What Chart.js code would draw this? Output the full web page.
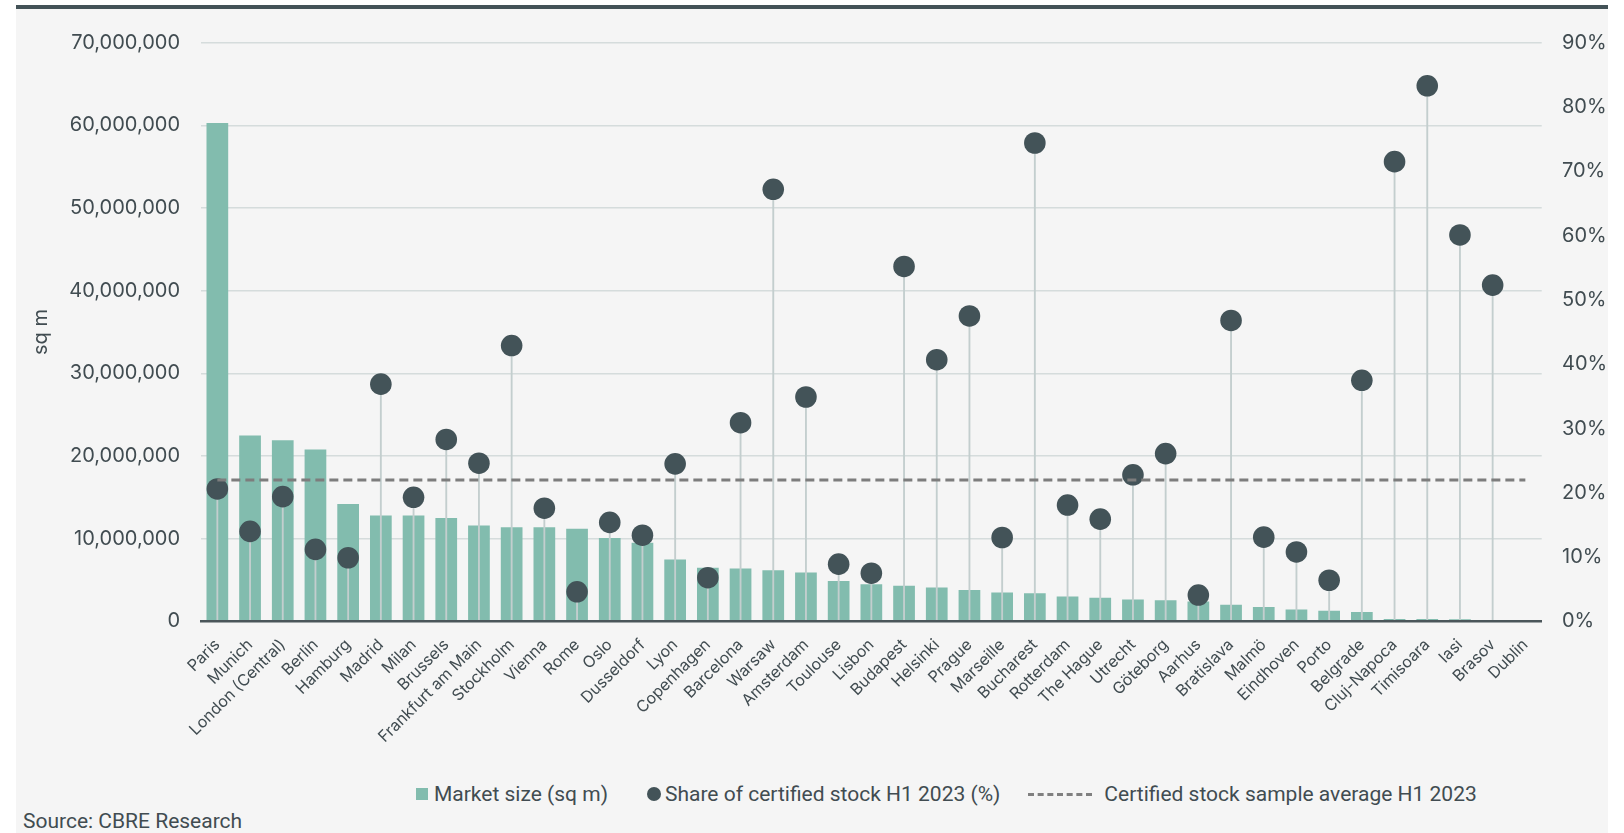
<!DOCTYPE html>
<html>
<head>
<meta charset="utf-8">
<script src="https://cdn.jsdelivr.net/npm/chart.js@4/dist/chart.umd.min.js"></script>
<style>
    body { margin: 0; background: #ffffff; }
    #topRule { position: absolute; left: 16px; top: 5px; width: 1592px; height: 4px; background: #435257; }
    #panel { position: absolute; left: 16px; top: 9px; width: 1592px; height: 824px; background: #f5f5f5; }
    #chartBox { position: absolute; left: 0; top: 0; width: 1592px; height: 760px; }
    #legend {
        position: absolute; left: 400px; top: 773px; height: 24px;
        display: flex; align-items: center;
        font-family: Roboto, sans-serif; font-size: 21px; color: #414c51; line-height: 24px;
    }
    #legend .item { display: flex; align-items: center; }
    #legend .swatch { width: 12px; height: 12px; background: #82bcae; margin-right: 6px; }
    #legend .dot { width: 14px; height: 14px; border-radius: 50%; background: #435358; margin-right: 4px; }
    #legend .dash { width: 64px; height: 0; border-top: 3px dashed #808080; margin-right: 12px; }
    #source {
        position: absolute; left: 7px; top: 800px;
        font-family: Roboto, sans-serif; font-size: 21px; color: #414c51; line-height: 24px;
    }
</style>
</head>
<body>
<div id="topRule"></div>
<div id="panel">
    <div id="chartBox"><canvas id="marketChart"></canvas></div>
    <div id="legend"></div>
    <div id="source">Source: CBRE Research</div>
</div>
<script>
/* Data */
const cities = [
    "Paris", "Munich", "London (Central)", "Berlin", "Hamburg", "Madrid", "Milan", "Brussels",
    "Frankfurt am Main", "Stockholm", "Vienna", "Rome", "Oslo", "Dusseldorf", "Lyon", "Copenhagen",
    "Barcelona", "Warsaw", "Amsterdam", "Toulouse", "Lisbon", "Budapest", "Helsinki", "Prague",
    "Marseille", "Bucharest", "Rotterdam", "The Hague", "Utrecht", "Göteborg", "Aarhus", "Bratislava",
    "Malmö", "Eindhoven", "Porto", "Belgrade", "Cluj-Napoca", "Timisoara", "Iasi", "Brasov", "Dublin"
];

// office market size, sq m
const marketSize = [
    60300000, 22500000, 21900000, 20800000, 14200000, 12800000, 12800000, 12500000,
    11600000, 11400000, 11400000, 11200000, 10100000, 9500000, 7500000, 6500000,
    6400000, 6200000, 5900000, 4900000, 4500000, 4300000, 4100000, 3800000,
    3500000, 3400000, 3000000, 2850000, 2650000, 2550000, 2400000, 2000000,
    1750000, 1450000, 1300000, 1150000, 300000, 280000, 270000, 150000, null
];

// share of certified stock H1 2023, %
const certifiedShare = [
    20.6, 14.0, 19.4, 11.2, 9.9, 36.9, 19.3, 28.3,
    24.6, 42.9, 17.6, 4.6, 15.4, 13.4, 24.5, 6.8,
    30.9, 67.2, 34.9, 8.9, 7.5, 55.2, 40.7, 47.5,
    13.05, 74.4, 18.1, 15.9, 22.8, 26.1, 4.1, 46.8,
    13.1, 10.8, 6.4, 37.5, 71.5, 83.3, 60.1, 52.3, null
];

const sampleAverage = 22.0;

const sizeTicks = { min: 0, max: 70000000, step: 10000000 };
const shareTicks = { min: 0, max: 90, step: 10 };

const seriesNames = [
    "Market size (sq m)",
    "Share of certified stock H1 2023 (%)",
    "Certified stock sample average H1 2023"
];

/* Styles */
const TEAL = "#82bcae";
const SLATE = "#435358";
const STEM = "#c3cece";
const GRID = "#d5dcdc";
const TEXT = "#414c51";
const AXIS_FONT = "Inter, 'Noto Sans', sans-serif";

/* Chart config */
const config = {
    type: 'bar',
    data: {
        labels: cities,
        datasets: [
            {
                type: 'line',
                label: seriesNames[2],
                data: cities.map(() => sampleAverage),
                yAxisID: 'y1',
                borderColor: "#7d7d7d",
                borderWidth: 3,
                borderDash: [9, 5],
                pointRadius: 0,
                fill: false,
                order: 0
            },
            {
                type: 'line',
                label: seriesNames[1],
                data: certifiedShare,
                yAxisID: 'y1',
                showLine: false,
                pointRadius: 10.8,
                pointHoverRadius: 10.8,
                pointBorderWidth: 0,
                pointBackgroundColor: SLATE,
                backgroundColor: SLATE,
                order: 1
            },
            {
                // thin stems from the baseline up to each dot
                label: 'stems',
                data: certifiedShare.map(v => v === null ? null : [0, v]),
                yAxisID: 'y1',
                backgroundColor: STEM,
                barThickness: 1.2,
                grouped: false,
                order: 2
            },
            {
                label: seriesNames[0],
                data: marketSize,
                yAxisID: 'y',
                backgroundColor: TEAL,
                barPercentage: 0.664,
                categoryPercentage: 1,
                grouped: false,
                order: 3
            }
        ]
    },
    options: {
        responsive: true,
        maintainAspectRatio: false,
        animation: false,
        layout: { padding: { top: 33.7, left: 0, right: 0, bottom: 0 } },
        plugins: {
            legend: { display: false },
            tooltip: { enabled: false }
        },
        scales: {
            x: {
                grid: { display: false },
                border: { display: true, color: "#4b565a", width: 2.5, z: 1 },
                ticks: {
                    autoSkip: false,
                    maxRotation: 45,
                    minRotation: 45,
                    padding: 6,
                    color: TEXT,
                    font: { family: AXIS_FONT, size: 16 }
                },
                afterFit: scale => { scale.height = 147.6; }
            },
            y: {
                position: 'left',
                min: sizeTicks.min,
                max: sizeTicks.max,
                border: { display: false },
                grid: {
                    color: ctx => ctx.tick && ctx.tick.value === 0 ? "rgba(0,0,0,0)" : GRID,
                    lineWidth: 1.5,
                    drawTicks: false
                },
                ticks: {
                    stepSize: sizeTicks.step,
                    padding: 21,
                    color: TEXT,
                    font: { family: AXIS_FONT, size: 20 },
                    callback: v => v.toLocaleString('en-US')
                },
                title: {
                    display: true,
                    text: 'sq m',
                    color: TEXT,
                    padding: { top: 13, bottom: 0 },
                    font: { family: AXIS_FONT, size: 20 }
                },
                afterFit: scale => { scale.width = 185; }
            },
            y1: {
                position: 'right',
                min: shareTicks.min,
                max: shareTicks.max,
                border: { display: false },
                grid: { display: false, drawTicks: false },
                ticks: {
                    stepSize: shareTicks.step,
                    padding: 20.3,
                    color: TEXT,
                    font: { family: AXIS_FONT, size: 20 },
                    callback: v => v + '%'
                },
                afterFit: scale => { scale.width = 66.3; }
            }
        }
    }
};

/* Legend */
function buildLegend() {
    const legend = document.getElementById('legend');
    const markers = ['swatch', 'dot', 'dash'];
    const gaps = [39, 28, 0];
    seriesNames.forEach((name, i) => {
        const item = document.createElement('div');
        item.className = 'item';
        item.style.marginRight = gaps[i] + 'px';
        const marker = document.createElement('span');
        marker.className = markers[i];
        const text = document.createElement('span');
        text.textContent = name;
        item.appendChild(marker);
        item.appendChild(text);
        legend.appendChild(item);
    });
}

let marketChart;

buildLegend();
marketChart = new Chart(document.getElementById('marketChart'), config);
</script>
</body>
</html>
